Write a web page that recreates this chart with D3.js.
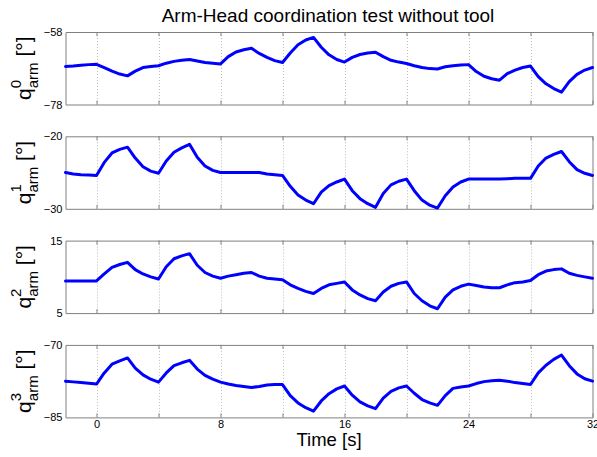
<!DOCTYPE html>
<html>
<head>
<meta charset="utf-8">
<script src="https://cdn.jsdelivr.net/npm/d3@7"></script>
<style>
  body { margin: 0; background: #fff; }
  text { font-family: "Liberation Sans", Arial, sans-serif; }
</style>
</head>
<body>
<div id="viz"></div>
<script>
const width = 597;
const height = 457;
const margin = {top: 32, left: 65.5, right: 4.5};
const panelHeight = 72.5;
const panelStep = 104.3;
const lineColor = '#0000ff';
const frameColor = '#808080';
const gridColor = '#bdbdbd';

const times = [-2, -1.5, -1, -0.5, 0, 0.5, 1, 1.5, 2, 2.5, 3, 3.5, 4, 4.5, 5, 5.5, 6, 6.5,
  7, 7.5, 8, 8.5, 9, 9.5, 10, 10.5, 11, 11.5, 12, 12.5, 13, 13.5, 14, 14.5, 15, 15.5,
  16, 16.5, 17, 17.5, 18, 18.5, 19, 19.5, 20, 20.5, 21, 21.5, 22, 22.5, 23, 23.5, 24,
  24.5, 25, 25.5, 26, 26.5, 27, 27.5, 28, 28.5, 29, 29.5, 30, 30.5, 31, 31.5, 32];
const q0 = [-67.5, -67.4, -67.2, -67.0, -66.9, -67.8, -68.8, -69.6, -70.1, -68.8, -67.8,
  -67.5, -67.3, -66.6, -66.1, -65.8, -65.6, -66.0, -66.4, -66.6, -66.8, -64.8, -63.5,
  -62.9, -62.5, -63.9, -65.0, -65.9, -66.4, -63.8, -61.5, -60.2, -59.5, -62.2, -64.3,
  -65.6, -66.3, -65.0, -64.2, -63.8, -63.6, -64.8, -65.8, -66.3, -66.7, -67.3, -67.8,
  -68.1, -68.2, -67.6, -67.3, -67.1, -67.0, -68.9, -70.2, -70.9, -71.3, -69.5, -68.5,
  -67.8, -67.4, -70.3, -72.3, -73.6, -74.6, -71.7, -69.7, -68.5, -67.8];
const q1 = [-25.0, -25.2, -25.3, -25.35, -25.4, -23.6, -22.3, -21.8, -21.5, -23.0, -24.2,
  -24.8, -25.1, -23.4, -22.2, -21.6, -21.1, -22.9, -24.1, -24.7, -25.0, -25.0, -25.0,
  -25.0, -25.0, -25.0, -25.2, -25.3, -25.4, -26.9, -28.1, -28.8, -29.3, -27.7, -26.8,
  -26.3, -25.9, -27.5, -28.6, -29.3, -29.8, -27.9, -26.7, -26.2, -25.9, -27.5, -28.8,
  -29.5, -29.9, -28.2, -27.0, -26.3, -25.9, -25.9, -25.9, -25.9, -25.9, -25.85, -25.8,
  -25.8, -25.8, -24.1, -23.0, -22.5, -22.1, -23.5, -24.6, -25.1, -25.4];
const q2 = [9.44, 9.44, 9.44, 9.44, 9.44, 10.4, 11.3, 11.7, 12.0, 11.0, 10.4,
  10.0, 9.7, 11.4, 12.5, 12.9, 13.2, 11.6, 10.6, 10.1, 9.8, 10.1, 10.3,
  10.5, 10.6, 10.1, 9.8, 9.7, 9.6, 8.9, 8.4, 8.0, 7.7, 8.4, 8.9,
  9.1, 9.3, 8.2, 7.5, 7.0, 6.7, 7.9, 8.7, 9.1, 9.3, 7.7, 6.7,
  6.0, 5.6, 7.2, 8.2, 8.7, 9.0, 8.8, 8.6, 8.5, 8.5, 8.9, 9.2,
  9.3, 9.5, 10.3, 10.8, 11.0, 11.1, 10.5, 10.2, 10.0, 9.8];
const q3 = [-77.5, -77.65, -77.8, -77.95, -78.1, -75.8, -74.0, -73.3, -72.7, -74.8, -76.2,
  -77.1, -77.7, -75.8, -74.3, -73.7, -73.2, -75.0, -76.3, -77.1, -77.7, -78.1, -78.4,
  -78.6, -78.8, -78.6, -78.3, -78.2, -78.2, -80.5, -82.0, -83.0, -83.7, -81.6, -80.1,
  -79.1, -78.5, -80.4, -81.8, -82.6, -83.2, -81.0, -79.6, -78.9, -78.5, -80.0, -81.3,
  -82.0, -82.5, -80.5, -79.0, -78.7, -78.5, -78.0, -77.6, -77.4, -77.3, -77.5, -77.8,
  -78.0, -78.2, -75.8, -74.2, -73.0, -72.1, -74.3, -76.0, -77.0, -77.5];

const series = [q0, q1, q2, q3];
const jointIndex = ['0', '1', '2', '3'];
const yDomains = [[-78, -58], [-30, -20], [5, 15], [-85, -70]];
const xDomain = [-2, 32];
const xTicks = [0, 4, 8, 12, 16, 20, 24, 28, 32];
const xTickLabels = ['0', '', '8', '', '16', '', '24', '', '32'];
const title = 'Arm-Head coordination test without tool';
const xTitle = 'Time [s]';

const svg = d3.select('#viz')
  .append('svg')
  .attr('width', width)
  .attr('height', height);

svg.append('rect')
  .attr('width', width)
  .attr('height', height)
  .attr('fill', '#fff');

const xScale = d3.scaleLinear()
  .domain(xDomain)
  .range([margin.left, width - margin.right]);

svg.append('text')
  .attr('x', 328)
  .attr('y', 22)
  .attr('text-anchor', 'middle')
  .attr('font-size', 19)
  .attr('fill', '#000')
  .text(title);

series.forEach((values, i) => {
  const top = margin.top + i * panelStep;
  const bottom = top + panelHeight;

  const yScale = d3.scaleLinear()
    .domain(yDomains[i])
    .range([bottom, top]);

  const g = svg.append('g').attr('class', 'panel');

  // dotted grid lines
  g.selectAll('.grid')
    .data(xTicks.filter(t => t < xDomain[1]))
    .join('line')
      .attr('x1', d => Math.round(xScale(d)) + 0.5)
      .attr('x2', d => Math.round(xScale(d)) + 0.5)
      .attr('y1', top)
      .attr('y2', bottom)
      .attr('stroke', gridColor)
      .attr('stroke-dasharray', '1,2');

  // bottom axis (tick labels only on the last panel)
  const bottomAxis = g.append('g')
    .attr('transform', `translate(0, ${bottom})`)
    .call(d3.axisBottom(xScale)
      .tickValues(xTicks)
      .tickSizeInner(-4)
      .tickSizeOuter(0)
      .tickPadding(3)
      .tickFormat((d, k) => i === series.length - 1 ? xTickLabels[k] : ''));

  const topAxis = g.append('g')
    .attr('transform', `translate(0, ${top})`)
    .call(d3.axisTop(xScale)
      .tickValues(xTicks)
      .tickSizeInner(-4)
      .tickSizeOuter(0)
      .tickFormat(''));

  const leftAxis = g.append('g')
    .attr('transform', `translate(${margin.left}, 0)`)
    .call(d3.axisLeft(yScale)
      .tickValues(yDomains[i])
      .tickSize(0)
      .tickPadding(3)
      .tickFormat(d3.format('d')));

  const rightAxis = g.append('g')
    .attr('transform', `translate(${width - margin.right}, 0)`)
    .call(d3.axisRight(yScale).tickValues([]).tickSizeOuter(0));

  [bottomAxis, topAxis, leftAxis, rightAxis].forEach(ax => {
    ax.select('.domain').attr('stroke', frameColor);
    ax.selectAll('.tick line').attr('stroke', frameColor);
    ax.selectAll('.tick text')
      .attr('font-size', 11)
      .attr('font-family', '"Liberation Sans", Arial, sans-serif')
      .attr('fill', '#000');
  });

  const line = d3.line()
    .x((d, k) => xScale(times[k]))
    .y(d => yScale(d));

  g.append('path')
    .datum(values)
    .attr('d', line)
    .attr('fill', 'none')
    .attr('stroke', lineColor)
    .attr('stroke-width', 3)
    .attr('stroke-linejoin', 'round')
    .attr('stroke-linecap', 'round');

  // y label: q^i_arm [°]
  const label = g.append('text')
    .attr('transform', `translate(31, ${(top + bottom) / 2}) rotate(-90)`)
    .attr('text-anchor', 'middle')
    .attr('font-size', 21)
    .attr('fill', '#000');
  label.append('tspan').text('q');
  label.append('tspan')
    .attr('font-size', 15)
    .attr('dy', -10)
    .text(jointIndex[i]);
  label.append('tspan')
    .attr('font-size', 15)
    .attr('dx', -8.3)
    .attr('dy', 17)
    .text('arm');
  label.append('tspan')
    .attr('dy', -7)
    .text(' [°]');
});

svg.append('text')
  .attr('x', 329)
  .attr('y', 446)
  .attr('text-anchor', 'middle')
  .attr('font-size', 18.5)
  .attr('fill', '#000')
  .text(xTitle);
</script>
</body>
</html>
